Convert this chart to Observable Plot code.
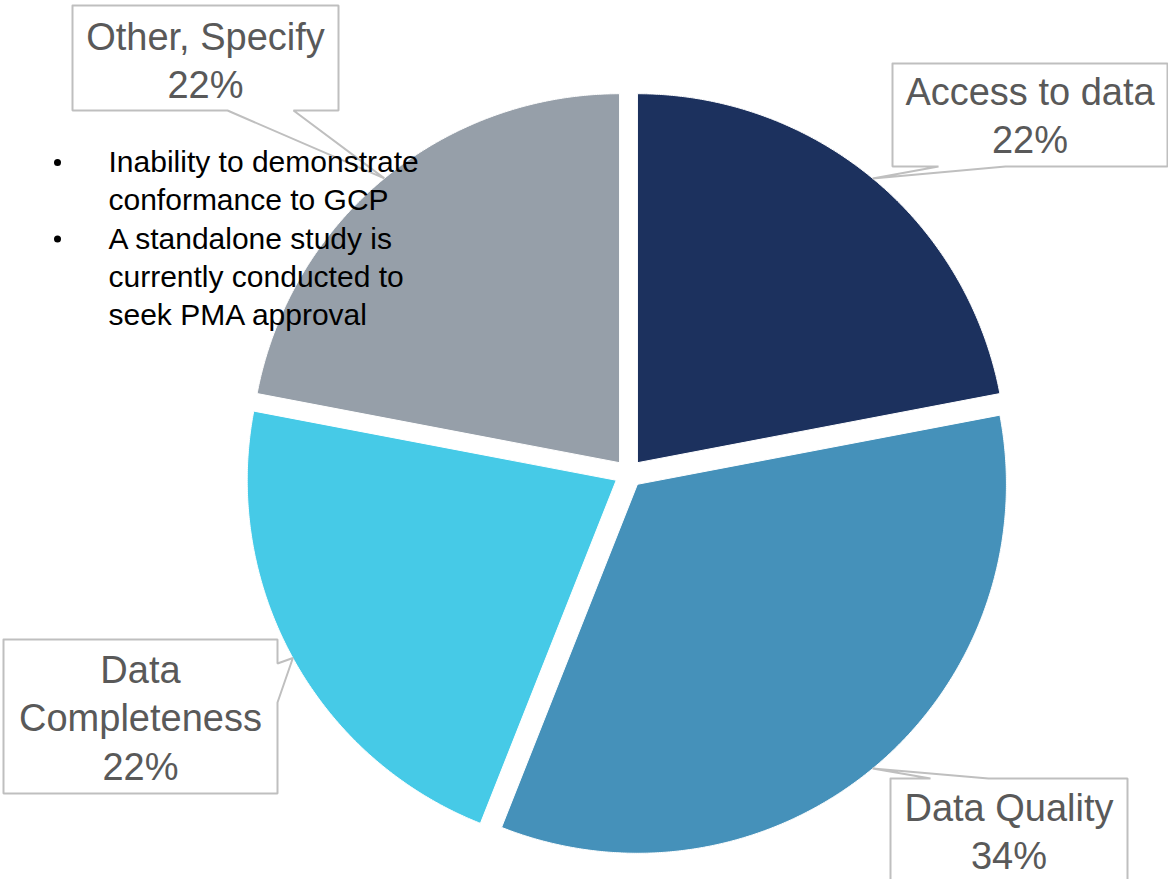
<!DOCTYPE html>
<html>
<head>
<meta charset="utf-8">
<script src="https://cdn.jsdelivr.net/npm/d3@7"></script>
<script src="https://cdn.jsdelivr.net/npm/@observablehq/plot@0.6"></script>
<style>
  html, body { margin: 0; padding: 0; background: #fff; }
  #chart svg { display: block; }
</style>
</head>
<body>
<div id="chart"></div>
<script>
// ---- data ----
const categories = ["Access to data", "Data Quality", "Data Completeness", "Other, Specify"];
const shares = [22, 34, 22, 22];
const labelText = ["Access to data", "Data Quality", "Data\nCompleteness", "Other, Specify"];
const sliceColors = ["#1c315e", "#4591ba", "#46cae7", "#969fa9"];
const bulletItems = [
  "Inability to demonstrate\nconformance to GCP",
  "A standalone study is\ncurrently conducted to\nseek PMA approval"
];

// ---- layout ----
const W = 1168, H = 879;
const pieLayout = {cx: 628, cy: 473, r: 369, explode: 14};
const callouts = [
  {box: [892, 63, 1167, 166], side: "bottom", base: [938, 1005], textY: 92},
  {box: [890, 778, 1127, 905], side: "top", base: [930, 988], textY: 808},
  {box: [3, 639, 277, 793], side: "right", base: [663, 702], textY: 670},
  {box: [72, 5, 338, 110], side: "bottom", base: [227, 293], textY: 37}
];
const labelLineGap = 48.5;
const bulletLayout = {bx: 57, tx: 108, y0: 162, lineGap: 38.3};

// ---- geometry from data ----
const arcs = d3.pie().sort(null).value(d => d)(shares);
const slicePts = [];
const tips = [];
arcs.forEach((a, i) => {
  const mid = (a.startAngle + a.endAngle) / 2;
  const ox = pieLayout.cx + pieLayout.explode * Math.sin(mid);
  const oy = pieLayout.cy - pieLayout.explode * Math.cos(mid);
  const name = categories[i];
  slicePts.push({name, x: ox, y: oy});
  const n = Math.max(2, Math.ceil((a.endAngle - a.startAngle) / 0.005));
  for (let k = 0; k <= n; k++) {
    const t = a.startAngle + (a.endAngle - a.startAngle) * k / n;
    slicePts.push({name, x: ox + pieLayout.r * Math.sin(t), y: oy - pieLayout.r * Math.cos(t)});
  }
  slicePts.push({name, x: ox, y: oy});
  tips.push({x: ox + pieLayout.r * Math.sin(mid), y: oy - pieLayout.r * Math.cos(mid)});
});

const calloutPts = [];
const labelRows = [];
callouts.forEach((c, i) => {
  const [x0, y0, x1, y1] = c.box;
  const tip = tips[i];
  const [b0, b1] = c.base;
  let pts;
  if (c.side === "top") {
    pts = [[x0, y0], [b0, y0], [tip.x, tip.y], [b1, y0], [x1, y0], [x1, y1], [x0, y1], [x0, y0]];
  } else if (c.side === "right") {
    pts = [[x0, y0], [x1, y0], [x1, b0], [tip.x, tip.y], [x1, b1], [x1, y1], [x0, y1], [x0, y0]];
  } else {
    pts = [[x0, y0], [x1, y0], [x1, y1], [b1, y1], [tip.x, tip.y], [b0, y1], [x0, y1], [x0, y0]];
  }
  pts.forEach(([x, y]) => calloutPts.push({id: i, x, y}));
  const lines = (labelText[i] + "\n" + shares[i] + "%").split("\n");
  lines.forEach((t, j) => labelRows.push({x: (x0 + x1) / 2, y: c.textY + j * labelLineGap, text: t}));
});

const bulletDots = [];
const bulletLines = [];
let line = 0;
bulletItems.forEach(item => {
  bulletDots.push({x: bulletLayout.bx, y: bulletLayout.y0 + line * bulletLayout.lineGap});
  item.split("\n").forEach(t => {
    bulletLines.push({x: bulletLayout.tx, y: bulletLayout.y0 + line * bulletLayout.lineGap, text: t});
    line++;
  });
});

const chart = Plot.plot({
  width: W,
  height: H,
  margin: 0,
  style: {background: "#fff", fontFamily: "'Liberation Sans', Arial, sans-serif"},
  x: {domain: [0, W], range: [0, W], axis: null},
  y: {domain: [0, H], range: [0, H], axis: null},
  color: {domain: categories, range: sliceColors},
  marks: [
    Plot.line(slicePts, {x: "x", y: "y", z: "name", fill: "name", stroke: "white", strokeWidth: 1, curve: "linear"}),
    Plot.line(calloutPts, {x: "x", y: "y", z: "id", fill: "white", stroke: "#bfbfbf", strokeWidth: 2, strokeLinejoin: "miter"}),
    Plot.text(labelRows, {x: "x", y: "y", text: "text", fill: "#595959", fontSize: 38, textAnchor: "middle", lineAnchor: "middle"}),
    Plot.dot(bulletDots, {x: "x", y: "y", r: 3.5, fill: "#000", stroke: null}),
    Plot.text(bulletLines, {x: "x", y: "y", text: "text", fill: "#000", fontSize: 30, textAnchor: "start", lineAnchor: "middle"})
  ]
});
document.getElementById("chart").appendChild(chart);
</script>
</body>
</html>
